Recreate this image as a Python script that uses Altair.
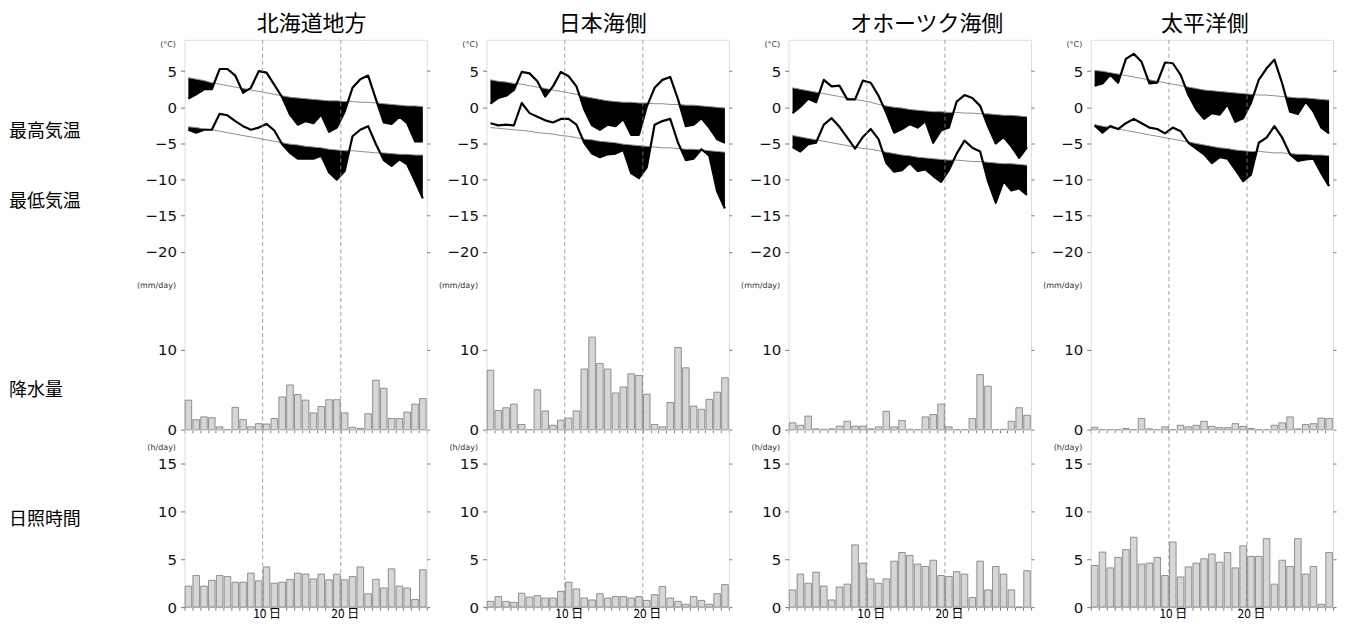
import altair as alt
import pandas as pd

days = list(range(1, 32))
region_names = ["北海道地方", "日本海側", "オホーツク海側", "太平洋側"]
row_labels = ["最高気温", "最低気温", "降水量", "日照時間"]
day_marks = [10, 20]
temp_ticks = [5, 0, -5, -10, -15, -20]
prec_ticks = [0, 10]
sun_ticks = [0, 5, 10, 15]

# 北海道地方
hk_tmax = [1.2, 1.8, 2.5, 2.5, 5.3, 5.3, 4.4, 2.0, 2.7, 5.0, 4.8, 3.1, 1.4, -1.0, -2.4, -1.9,
           -2.2, -1.0, -3.4, -2.8, -0.6, 2.7, 3.9, 4.4, 1.1, -2.1, -2.3, -1.3, -2.2, -4.7, -4.7]
hk_tmax_norm = [4.1, 3.9, 3.7, 3.4, 3.2, 3.0, 2.8, 2.6, 2.4, 2.2, 2.0, 1.8, 1.6, 1.4, 1.3, 1.2,
                1.1, 1.0, 0.9, 0.9, 0.8, 0.8, 0.7, 0.7, 0.6, 0.5, 0.4, 0.3, 0.2, 0.2, 0.1]
hk_tmin = [-3.1, -3.5, -3.1, -3.1, -0.9, -1.1, -1.9, -2.6, -3.1, -2.8, -2.3, -3.2, -5.1, -6.3, -7.1, -7.1,
           -7.1, -6.7, -9.0, -10.0, -8.8, -4.0, -3.1, -2.6, -5.1, -7.3, -8.1, -7.2, -7.9, -10.2, -12.6]
hk_tmin_norm = [-2.7, -2.8, -3.0, -3.1, -3.3, -3.5, -3.7, -3.9, -4.1, -4.3, -4.5, -4.7, -4.9, -5.1, -5.2, -5.4,
                -5.5, -5.6, -5.8, -5.9, -6.0, -6.0, -6.1, -6.2, -6.3, -6.3, -6.4, -6.5, -6.5, -6.6, -6.6]
hk_prec = [3.7, 1.25, 1.6, 1.5, 0.35, 0.0, 2.8, 1.25, 0.35, 0.75, 0.7, 1.4, 4.1, 5.6, 4.4, 3.7,
           2.1, 2.9, 3.75, 3.75, 2.1, 0.3, 0.15, 2.0, 6.2, 5.2, 1.4, 1.4, 2.2, 3.2, 3.9]
hk_sun = [2.2, 3.3, 2.2, 2.8, 3.3, 3.2, 2.6, 2.6, 3.55, 2.75, 4.2, 2.5, 2.6, 2.9, 3.55, 3.45,
          2.95, 3.45, 2.85, 3.45, 2.85, 3.2, 4.2, 1.4, 2.9, 2.0, 4.0, 2.2, 2.0, 0.8, 3.9]

# 日本海側
jp_tmax = [0.5, 1.3, 1.6, 2.4, 4.9, 4.7, 3.6, 1.5, 2.9, 4.9, 4.3, 2.9, -0.3, -2.5, -3.1, -2.4,
           -2.6, -1.6, -3.8, -3.8, 0.1, 2.7, 3.8, 4.2, 1.1, -2.6, -2.4, -1.5, -2.8, -4.4, -4.9]
jp_tmax_norm = [3.8, 3.6, 3.5, 3.3, 3.2, 3.0, 2.8, 2.6, 2.4, 2.2, 2.0, 1.8, 1.5, 1.3, 1.1, 0.9,
                0.8, 0.7, 0.7, 0.6, 0.6, 0.5, 0.5, 0.4, 0.4, 0.3, 0.3, 0.2, 0.1, 0.0, -0.1]
jp_tmin = [-2.2, -2.5, -2.4, -2.5, 0.6, -0.8, -1.3, -1.8, -2.1, -1.6, -1.6, -2.4, -4.9, -6.4, -6.9, -6.5,
           -6.4, -5.9, -9.1, -9.8, -8.3, -2.4, -1.9, -1.6, -4.9, -7.3, -7.1, -5.8, -6.7, -11.6, -14.0]
jp_tmin_norm = [-2.8, -2.9, -3.0, -3.1, -3.2, -3.3, -3.5, -3.6, -3.7, -3.9, -4.0, -4.2, -4.4, -4.5, -4.7, -4.8,
                -4.9, -5.1, -5.2, -5.3, -5.4, -5.5, -5.6, -5.6, -5.7, -5.8, -5.8, -5.9, -6.0, -6.1, -6.2]
jp_prec = [7.45, 2.4, 2.75, 3.2, 0.65, 0.0, 5.0, 2.35, 0.55, 1.2, 1.45, 2.35, 7.6, 11.6, 8.3, 7.6,
           4.6, 5.35, 7.0, 6.8, 4.45, 0.65, 0.35, 3.4, 10.3, 7.75, 2.95, 2.55, 3.8, 4.7, 6.5]
jp_sun = [0.6, 1.1, 0.6, 0.5, 1.45, 1.05, 1.2, 0.95, 0.95, 1.65, 2.6, 1.9, 0.95, 0.75, 1.4, 0.95,
          1.1, 1.1, 0.95, 1.1, 0.7, 1.3, 2.15, 0.95, 0.6, 0.3, 1.1, 0.7, 0.3, 1.4, 2.35]

# オホーツク海側
ok_tmax = [-0.8, 0.1, 1.2, 0.7, 3.8, 2.9, 3.0, 1.1, 1.1, 3.7, 3.4, 1.6, -0.8, -3.5, -3.0, -2.3,
           -2.8, -1.9, -4.9, -3.2, -2.8, 0.8, 1.7, 1.3, 0.2, -2.6, -5.0, -4.1, -5.4, -7.0, -5.5]
ok_tmax_norm = [2.7, 2.5, 2.3, 2.1, 1.9, 1.7, 1.5, 1.3, 1.1, 0.9, 0.7, 0.4, 0.2, 0.0, -0.1, -0.3,
                -0.4, -0.5, -0.6, -0.6, -0.7, -0.7, -0.8, -0.8, -0.9, -0.9, -1.0, -1.1, -1.1, -1.2, -1.3]
ok_tmin = [-5.5, -6.1, -5.1, -4.9, -2.4, -1.5, -2.7, -4.2, -5.7, -4.1, -3.0, -4.4, -7.7, -8.9, -8.7, -7.7,
           -8.8, -8.6, -9.5, -10.3, -8.7, -6.4, -4.6, -5.6, -6.1, -10.2, -13.2, -10.2, -11.5, -11.2, -12.1]
ok_tmin_norm = [-3.9, -4.1, -4.3, -4.5, -4.7, -4.9, -5.1, -5.3, -5.5, -5.7, -5.8, -6.0, -6.2, -6.4, -6.6, -6.7,
                -6.9, -7.0, -7.1, -7.2, -7.3, -7.3, -7.4, -7.5, -7.5, -7.6, -7.7, -7.8, -7.8, -7.9, -8.0]
ok_prec = [0.85, 0.55, 1.7, 0.1, 0.05, 0.1, 0.45, 1.05, 0.45, 0.45, 0.1, 0.35, 2.3, 0.35, 1.15, 0.05,
           0.0, 1.6, 1.9, 3.2, 0.35, 0.0, 0.0, 1.4, 6.9, 5.45, 0.0, 0.05, 1.05, 2.75, 1.8]
ok_sun = [1.8, 3.45, 2.5, 3.65, 2.2, 0.75, 2.1, 2.4, 6.5, 4.6, 2.95, 2.5, 2.95, 4.8, 5.7, 5.4,
          4.5, 4.25, 4.9, 3.3, 3.2, 3.7, 3.45, 1.0, 4.8, 1.8, 4.25, 3.45, 1.8, 0.0, 3.8]

# 太平洋側
pc_tmax = [3.0, 3.3, 4.5, 3.4, 6.7, 7.4, 6.3, 3.3, 3.4, 6.2, 6.1, 4.5, 1.7, -0.3, -1.6, -0.8,
           -1.0, 0.4, -2.0, -1.5, 0.6, 3.8, 5.4, 6.6, 3.3, -0.6, -0.9, 0.8, -0.6, -2.8, -3.6]
pc_tmax_norm = [5.1, 5.0, 4.8, 4.6, 4.4, 4.2, 4.0, 3.8, 3.6, 3.4, 3.2, 3.0, 2.8, 2.6, 2.4, 2.3,
                2.2, 2.1, 2.0, 1.9, 1.8, 1.7, 1.7, 1.6, 1.5, 1.4, 1.3, 1.3, 1.2, 1.1, 1.0]
pc_tmin = [-2.5, -3.5, -2.6, -3.0, -2.2, -1.6, -2.2, -2.8, -3.0, -3.6, -2.8, -3.3, -4.9, -5.7, -6.5, -7.7,
           -6.9, -7.1, -8.6, -10.2, -9.3, -4.9, -4.2, -2.6, -4.2, -6.5, -7.4, -7.2, -7.1, -9.1, -10.9]
pc_tmin_norm = [-2.4, -2.6, -2.8, -3.0, -3.2, -3.4, -3.6, -3.8, -4.0, -4.2, -4.4, -4.6, -4.8, -5.0, -5.2, -5.4,
                -5.6, -5.7, -5.9, -6.0, -6.1, -6.1, -6.2, -6.3, -6.3, -6.4, -6.5, -6.5, -6.6, -6.6, -6.7]
pc_prec = [0.3, 0.0, 0.0, 0.0, 0.15, 0.0, 1.4, 0.1, 0.0, 0.35, 0.0, 0.55, 0.35, 0.55, 1.05, 0.4,
           0.25, 0.25, 0.75, 0.4, 0.15, 0.0, 0.0, 0.55, 0.85, 1.6, 0.1, 0.65, 0.75, 1.45, 1.4]
pc_sun = [4.35, 5.75, 4.1, 5.2, 6.0, 7.3, 4.5, 4.6, 5.2, 3.3, 6.8, 3.15, 4.2, 4.6, 5.05, 5.55,
          4.7, 5.7, 4.1, 6.4, 5.3, 5.3, 7.15, 2.4, 4.9, 4.25, 7.15, 3.45, 4.25, 0.3, 5.7]

FONT_NUM = "DejaVu Sans"
FONT_JP = "Noto Sans CJK JP"
PLOT_W = 243
TOP_H = 391
SUN_H = 178
T_TOP = 9.34
T_PX = 7.25          # pixels per degree
P_PX = 8.0           # pixels per mm
S_PX = 9.6           # pixels per hour
T_DOM = [T_TOP - TOP_H / T_PX, T_TOP]
P_DOM = [0, TOP_H / P_PX]
S_DOM = [0, SUN_H / S_PX]
LABEL_X = -22.45


def xscale():
    return alt.Scale(domain=[0, 31], nice=False, zero=False)


def yscale(dom):
    return alt.Scale(domain=dom, nice=False, zero=False)


def left_axis(values, title, title_y):
    return alt.Axis(orient="left", values=values, title=title, titleAngle=0,
                    titleAlign="right", titleBaseline="middle", titleX=-9, titleY=title_y,
                    titleFont=FONT_NUM, titleFontSize=8, titleFontWeight="normal",
                    titleColor="#333", labelFont=FONT_NUM, labelFontSize=15,
                    labelColor="#111", labelPadding=4, tickSize=4, tickColor="#777",
                    domain=False, grid=False, labelOverlap=False, minExtent=0)


def right_axis(values):
    return alt.Axis(orient="right", values=values, labels=False, tickSize=3,
                    tickColor="#777", domain=False, grid=False, title=None,
                    minExtent=0, maxExtent=3, labelPadding=0, offset=0)


def top_x_axis():
    return alt.Axis(orient="bottom", values=list(range(0, 32)), labels=False, tickSize=3,
                    tickColor="#777", domain=False, grid=False, title=None,
                    minExtent=0, maxExtent=3)


def bottom_x_axis():
    return alt.Axis(orient="bottom", values=list(range(0, 32)),
                    labelExpr="datum.value == 10 ? '10 日' : (datum.value == 20 ? '20 日' : '')",
                    labelFont=FONT_JP, labelFontSize=12, labelColor="#000", labelOffset=4,
                    labelPadding=-2, labelFlush=False, labelOverlap=False, minExtent=0,
                    tickSize=3, tickColor="#777", domain=False, grid=False, title=None)


def below_rows(actual, normal, series):
    rows = []
    xs = [d - 0.5 for d in days]
    n = len(actual)
    for i in range(n):
        rows.append({"x": xs[i], "lo": min(actual[i], normal[i]), "hi": normal[i], "s": series})
        if i < n - 1:
            d0 = actual[i] - normal[i]
            d1 = actual[i + 1] - normal[i + 1]
            if d0 * d1 < 0:
                t = d0 / (d0 - d1)
                v = actual[i] + t * (actual[i + 1] - actual[i])
                rows.append({"x": xs[i] + t, "lo": v, "hi": v, "s": series})
    return rows


def ticks_layer(values, dom, xa):
    df = pd.DataFrame({"v": values, "a": [0.0] * len(values)})
    return alt.Chart(df).mark_point(opacity=0, size=1).encode(
        x=alt.X("a:Q", scale=xscale(), axis=xa),
        y=alt.Y("v:Q", scale=yscale(dom), axis=right_axis(values)),
    )


def rules_layer(xa):
    df = pd.DataFrame({"d": day_marks})
    return alt.Chart(df).mark_rule(color="#8a8a8a", strokeDash=[4, 3], strokeWidth=0.8).encode(
        x=alt.X("d:Q", scale=xscale(), axis=xa)
    )


def label_layer(text, val, dom, xa):
    df = pd.DataFrame({"lab": [text], "x": [LABEL_X], "v": [val]})
    return alt.Chart(df).mark_text(align="left", baseline="middle", font=FONT_JP,
                                   fontSize=18, color="#000").encode(
        x=alt.X("x:Q", scale=xscale(), axis=xa),
        y=alt.Y("v:Q", scale=yscale(dom), axis=None),
        text="lab:N",
    )


def bars_layer(values, dom, axis, xa):
    df = pd.DataFrame({"d": days, "v": values})
    return alt.Chart(df).transform_calculate(
        x0="datum.d - 0.92", x1="datum.d - 0.08", z="0"
    ).mark_rect(fill="#d6d6d6", stroke="#7a7a7a", strokeWidth=0.8).encode(
        x=alt.X("x0:Q", scale=xscale(), axis=xa),
        x2="x1:Q",
        y=alt.Y("v:Q", scale=yscale(dom), axis=axis),
        y2="z:Q",
    )


def panel(idx, name, tmax, tmaxn, tmin, tminn, prec, sun, title_dx):
    first = idx == 0
    xs = [d - 0.5 for d in days]
    xa_top = top_x_axis()

    line_df = pd.DataFrame({"x": xs + xs, "t": tmax + tmin, "s": ["max"] * 31 + ["min"] * 31})
    norm_df = pd.DataFrame({"x": xs + xs, "t": tmaxn + tminn, "s": ["max"] * 31 + ["min"] * 31})
    area_df = pd.DataFrame(below_rows(tmax, tmaxn, "max") + below_rows(tmin, tminn, "min"))

    area = alt.Chart(area_df).mark_area(color="black", interpolate="linear").encode(
        x=alt.X("x:Q", scale=xscale(), axis=xa_top),
        y=alt.Y("lo:Q", scale=yscale(T_DOM), axis=left_axis(temp_ticks, "(°C)", 5), stack=None),
        y2="hi:Q",
        detail="s:N",
    )
    norm = alt.Chart(norm_df).mark_line(color="#8c8c8c", strokeWidth=1).encode(
        x=alt.X("x:Q", scale=xscale(), axis=xa_top),
        y=alt.Y("t:Q", scale=yscale(T_DOM), axis=None),
        detail="s:N",
    )
    line = alt.Chart(line_df).mark_line(color="black", strokeWidth=2.2, strokeJoin="round").encode(
        x=alt.X("x:Q", scale=xscale(), axis=xa_top),
        y=alt.Y("t:Q", scale=yscale(T_DOM), axis=None),
        detail="s:N",
    )
    bars_p = bars_layer(prec, P_DOM, left_axis(prec_ticks, "(mm/day)", 246), xa_top)

    top_layers = [area, norm, line, ticks_layer(temp_ticks, T_DOM, xa_top), bars_p,
                  ticks_layer(prec_ticks, P_DOM, xa_top)]
    if first:
        top_layers += [label_layer(row_labels[0], -3.41, T_DOM, xa_top),
                       label_layer(row_labels[1], -13.06, T_DOM, xa_top),
                       label_layer(row_labels[2], 4.8, P_DOM, xa_top)]
    top_layers.append(rules_layer(xa_top))

    top = alt.layer(*top_layers).resolve_scale(y="independent").properties(
        width=PLOT_W, height=TOP_H,
        title=alt.TitleParams(text=name, font=FONT_JP, fontSize=22, fontWeight="normal",
                              color="#000", dx=title_dx, offset=3, anchor="middle"),
    )

    xa_bot = bottom_x_axis()
    bars_s = bars_layer(sun, S_DOM, left_axis(sun_ticks, "(h/day)", 18), xa_bot)
    bot_layers = [bars_s, ticks_layer(sun_ticks, S_DOM, xa_bot)]
    if first:
        bot_layers.append(label_layer(row_labels[3], 9.1, S_DOM, xa_bot))
    bot_layers.append(rules_layer(xa_bot))
    bottom = alt.layer(*bot_layers).resolve_scale(y="independent").properties(
        width=PLOT_W, height=SUN_H)

    return top, bottom


series = [
    (hk_tmax, hk_tmax_norm, hk_tmin, hk_tmin_norm, hk_prec, hk_sun),
    (jp_tmax, jp_tmax_norm, jp_tmin, jp_tmin_norm, jp_prec, jp_sun),
    (ok_tmax, ok_tmax_norm, ok_tmin, ok_tmin_norm, ok_prec, ok_sun),
    (pc_tmax, pc_tmax_norm, pc_tmin, pc_tmin_norm, pc_prec, pc_sun),
]
title_dx = [6, -5, 17, -7]

parts = [panel(i, region_names[i], *series[i], title_dx[i]) for i in range(4)]
tops = [p[0] for p in parts]
bots = [p[1] for p in parts]

chart = alt.concat(*tops, *bots, columns=4, spacing=alt.RowColnumber(row=0, column=60),
                   bounds="flush").properties(
    padding={"left": 0, "top": 4, "right": 0, "bottom": 0}
).configure_view(stroke="#555", strokeWidth=1.5).configure(background="white")

chart.save("out.html", embed_options={"renderer": "svg", "actions": False})
